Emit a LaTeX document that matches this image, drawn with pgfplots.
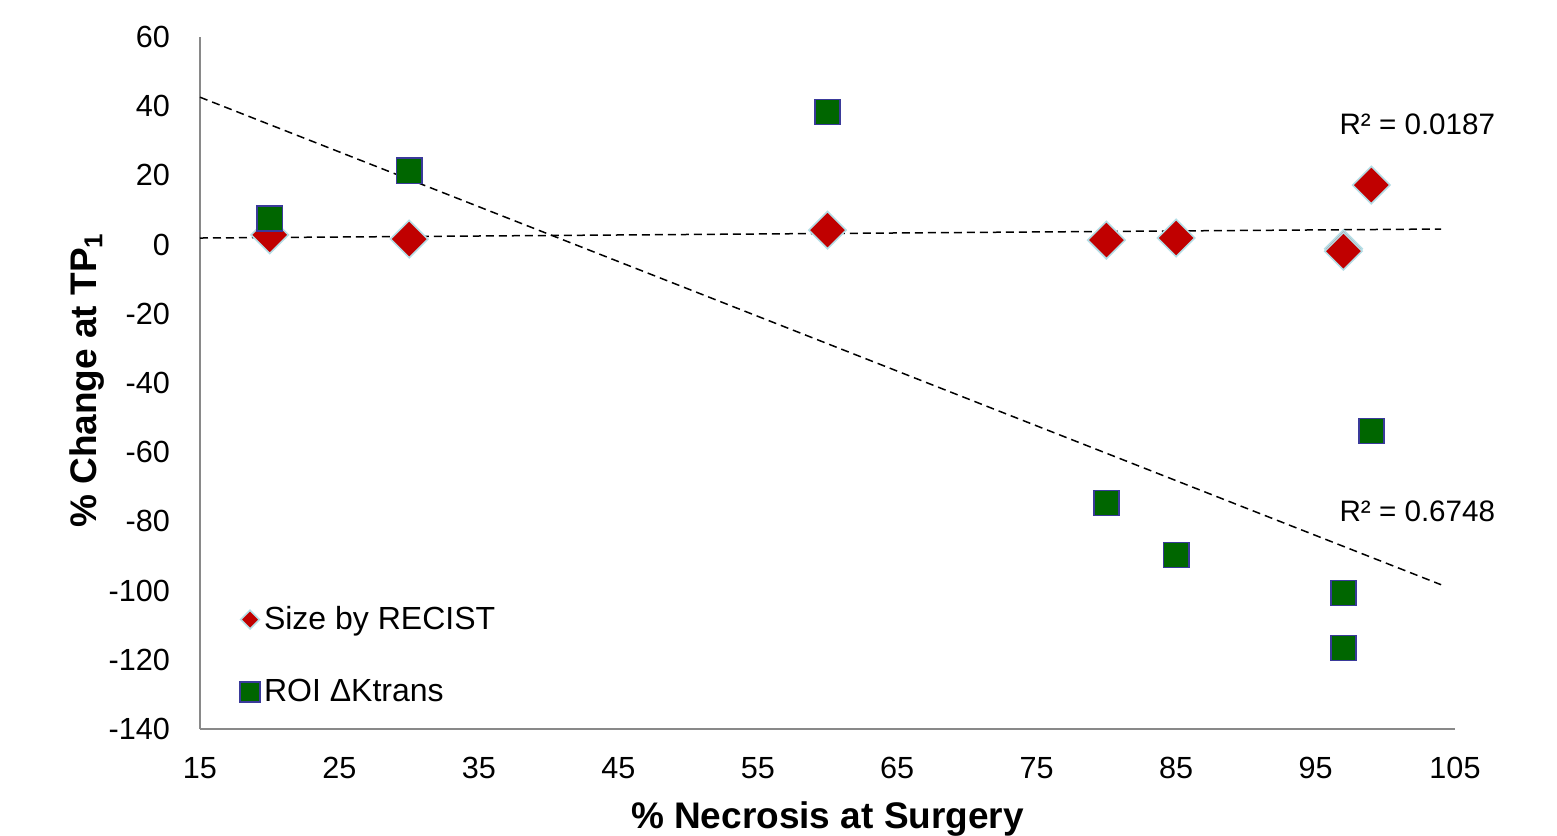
\documentclass[border=0pt]{standalone}
\usepackage{fontspec}
\setmainfont{Liberation Sans}
\usepackage{pgfplots}
\pgfplotsset{compat=1.18}
\definecolor{dred}{HTML}{C00000}
\definecolor{dgreen}{HTML}{006600}
\definecolor{sqedge}{HTML}{3A3A9A}
\definecolor{dmedge}{HTML}{B4DEE6}
\definecolor{axgray}{HTML}{898989}
\begin{document}
\begin{tikzpicture}
\useasboundingbox (-100pt,-53pt) rectangle (678.5pt,364.5pt);
\begin{axis}[
  at={(0,0)}, anchor=south west,
  scale only axis, width=627.5pt, height=346pt,
  xmin=15, xmax=105, ymin=-140, ymax=60,
  xtick={15,25,...,105}, ytick={-140,-120,...,60},
  axis x line*=bottom, axis y line*=left,
  axis line style={axgray, line width=1pt, -},
  major tick length=0pt,
  tick label style={font=\fontsize{15.3}{18}\selectfont},
  /pgf/number format/assume math mode=true,
  xticklabel style={yshift=-10.5pt},
  yticklabel style={xshift=-11.5pt},
  xlabel={\textbf{\% Necrosis at Surgery}},
  ylabel={\textbf{\% Change at TP\textsubscript{1}}},
  label style={font=\fontsize{18.5}{22}\selectfont},
  xlabel style={at={([yshift=-45pt]axis description cs:0.5,0)}, anchor=center},
  ylabel style={at={([xshift=-56.5pt]axis description cs:0,0.504)}, anchor=center},
  legend style={at={(0.03,0.0255)}, anchor=south west, draw=none, fill=none,
    font=\fontsize{16}{19}\selectfont, row sep=19.5pt, inner sep=1pt},
  legend cell align=left,
  clip=false,
]
\addplot[only marks, mark=square*, mark size=6.6pt, color=dmedge, fill=dred, line width=0.8pt,
  mark options={rotate=45}, legend image post style={mark size=3.3pt}]
  coordinates {(20,2.8) (30,1.6) (60,4.2) (80,1.3) (85,1.9) (97,-1.2) (97,-1.9) (99,17.2)};
\addlegendentry{Size by RECIST}
\addplot[only marks, mark=square*, mark size=6.3pt, color=sqedge, fill=dgreen, line width=0.8pt,
  legend image post style={mark size=5pt}]
  coordinates {(20,7.5) (30,21.3) (60,38.3) (80,-74.7) (85,-89.7) (97,-100.7) (97,-116.6) (99,-53.9)};
\addlegendentry{ROI ΔKtrans}
\addplot[black, line width=0.75pt, dash pattern=on 4pt off 2.5pt, forget plot]
  coordinates {(15,1.9) (104,4.5)};
\addplot[black, line width=0.75pt, dash pattern=on 4pt off 2.5pt, forget plot]
  coordinates {(15,42.6) (104,-98.3)};
\node[font=\fontsize{14.8}{17}\selectfont] at (axis cs:102.3,34.9) {R² = 0.0187};
\node[font=\fontsize{14.8}{17}\selectfont] at (axis cs:102.3,-77) {R² = 0.6748};
\end{axis}
\end{tikzpicture}
\end{document}
